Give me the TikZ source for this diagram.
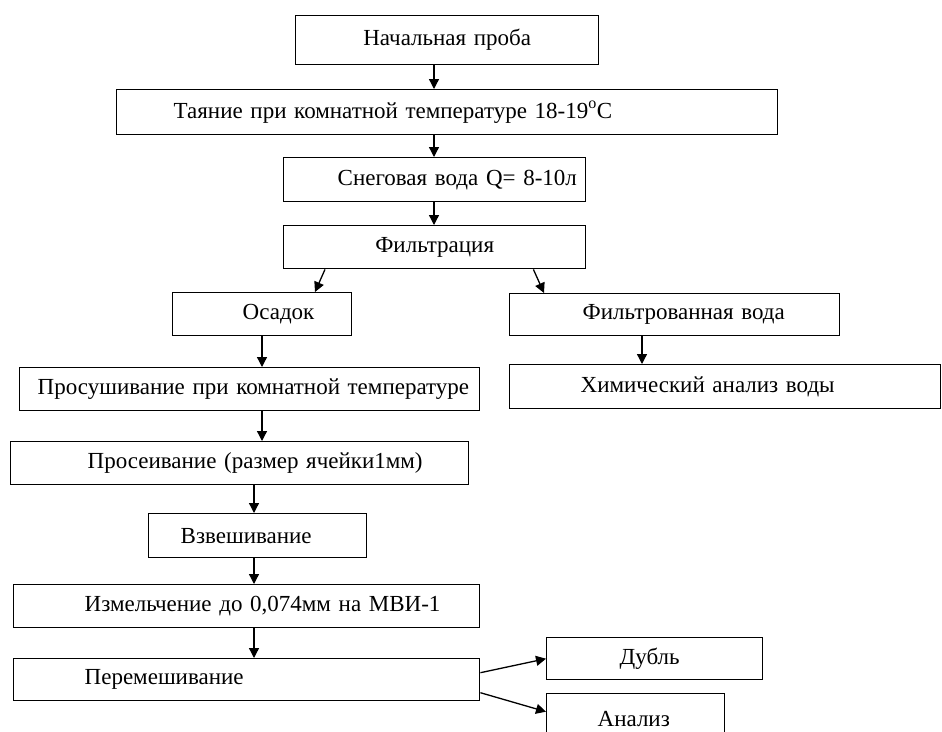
\documentclass[tikz,border=0pt]{standalone}
\usepackage{fontspec}
\setmainfont{Liberation Serif}
\usetikzlibrary{arrows.meta,positioning}
\tikzset{
    box/.style={draw, line width=1.4pt, anchor=north west, inner sep=0pt,
    align=left, font=\fontsize{23}{27}\selectfont},
    arr/.style={line width=1.3pt, -{Triangle[length=10pt,width=10pt]}}
}

\begin{document}
\begin{tikzpicture}[x=1pt,y=-1pt]
    \useasboundingbox (0,0) rectangle (942,731);
    % upper chain
    \node (start) [box,text width=303pt,minimum height=49pt,align=center] at (295,15) {Начальная проба};
    \node (thaw) [box,text width=661pt,minimum height=45pt] at (116,89) {\hspace*{57pt}Таяние при комнатной температуре 18-19\textsuperscript{o}C};
    \node (snow) [box,text width=302pt,minimum height=44pt] at (283,157) {\hspace*{54pt}Снеговая вода Q= 8-10л};
    \node (filt) [box,text width=302pt,minimum height=43pt,align=center] at (283,225) {Фильтрация};
    % two branches
    \node (sed) [box,text width=179pt,minimum height=43pt] at (172,292) {\hspace*{70pt}Осадок};
    \node (fwater) [box,text width=330pt,minimum height=42pt] at (509,293) {\hspace*{73pt}Фильтрованная вода};
    \node (chem) [box,text width=431pt,minimum height=44pt] at (509,364) {\hspace*{71pt}Химический анализ воды};
    \node (dry) [box,text width=460pt,minimum height=43pt] at (19,367) {\hspace*{18pt}Просушивание при комнатной температуре};
    \node (sieve) [box,text width=458pt,minimum height=43pt] at (10,441) {\hspace*{77pt}Просеивание (размер ячейки1мм)};
    \node (weigh) [box,text width=218pt,minimum height=44pt] at (148,513) {\hspace*{32pt}Взвешивание};
    \node (grind) [box,text width=466pt,minimum height=43pt] at (13,584) {\hspace*{71pt}Измельчение до 0,074мм на МВИ-1};
    \node (mix) [box,text width=466pt,minimum height=42pt] at (13,658) {\hspace*{71pt}Перемешивание};
    \node (dup) [box,text width=216pt,minimum height=42pt] at (546,637) {\hspace*{73pt}Дубль};
    \node (anal) [box,text width=178pt,minimum height=50pt] at (546,693) {\hspace*{51pt}Анализ};
    % arrow columns
    \coordinate (c1) at (434,0);
    \coordinate (c2) at (262,0);
    \coordinate (c3) at (642,0);
    \coordinate (c4) at (254,0);
    \path (start.south -| c1) edge [arr] (thaw.north -| c1);
    \path (thaw.south -| c1) edge [arr] (snow.north -| c1);
    \path (snow.south -| c1) edge [arr] (filt.north -| c1);
    \path ([xshift=42pt]filt.south west) edge [arr] ([xshift=143pt]sed.north west);
    \path ([xshift=-53pt]filt.south east) edge [arr] ([xshift=35pt]fwater.north west);
    \path (sed.south -| c2) edge [arr] (dry.north -| c2);
    \path (fwater.south -| c3) edge [arr] (chem.north -| c3);
    \path (dry.south -| c2) edge [arr] (sieve.north -| c2);
    \path (sieve.south -| c4) edge [arr] (weigh.north -| c4);
    \path (weigh.south -| c4) edge [arr] (grind.north -| c4);
    \path (grind.south -| c4) edge [arr] (mix.north -| c4);
    \path ([yshift=7pt]mix.east) edge [arr] (dup.west);
    \path ([yshift=-13pt]mix.east) edge [arr] ([yshift=7pt]anal.west);
\end{tikzpicture}
\end{document}
